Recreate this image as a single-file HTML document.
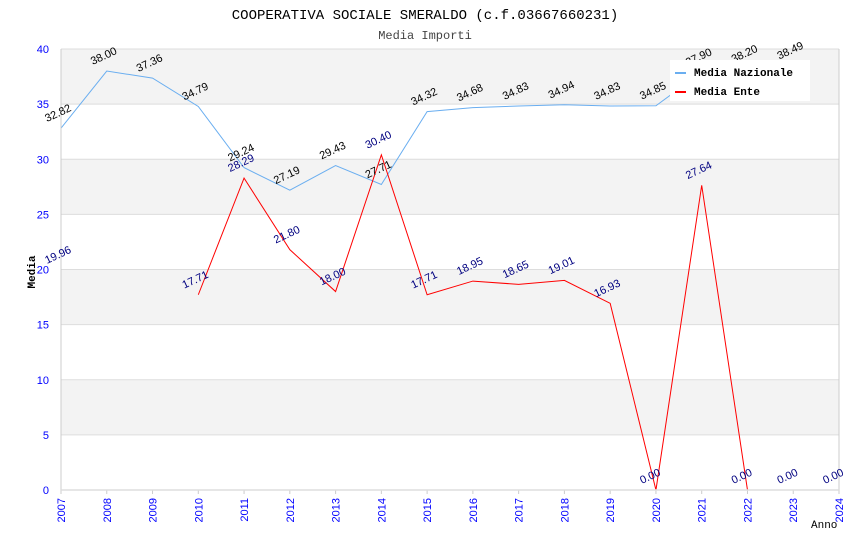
<!DOCTYPE html>
<html><head><meta charset="utf-8"><style>
body{margin:0;background:#fff;}
svg text{font-family:"Liberation Sans",sans-serif;}
.mono{font-family:"Liberation Mono",monospace;}
</style></head><body>
<svg id="chart" width="850" height="550" xmlns="http://www.w3.org/2000/svg">
<text class="mono" x="425" y="19" text-anchor="middle" font-size="14" fill="#000">COOPERATIVA SOCIALE SMERALDO (c.f.03667660231)</text>
<text class="mono" x="425" y="39" text-anchor="middle" font-size="12" fill="#444">Media Importi</text>
<g id="bands"></g><g id="grid"></g><g id="series"></g><g id="axes"></g><g id="labels"></g>
<g>
<rect x="670" y="60" width="140" height="41" fill="#fff"/>
<line x1="675" y1="73" x2="686" y2="73" stroke="#6aaef0" stroke-width="2"/>
<text class="mono" x="694" y="76" font-size="11" font-weight="bold">Media Nazionale</text>
<line x1="675" y1="92" x2="686" y2="92" stroke="#f00" stroke-width="2"/>
<text class="mono" x="694" y="95" font-size="11" font-weight="bold">Media Ente</text>
</g>
<text class="mono" x="35" y="272" font-size="11" font-weight="bold" transform="rotate(-90 35 272)" text-anchor="middle">Media</text>
<text class="mono" x="811" y="528" font-size="11">Anno</text>
</svg>
<script>
const years=[2007,2008,2009,2010,2011,2012,2013,2014,2015,2016,2017,2018,2019,2020,2021,2022,2023,2024];
const nazionale=[32.82,38.00,37.36,34.79,29.24,27.19,29.43,27.71,34.32,34.68,34.83,34.94,34.83,34.85,37.9,38.2,38.49,null];
const ente=[19.96,null,null,17.71,28.29,21.80,18.00,30.40,17.71,18.95,18.65,19.01,16.93,0.00,27.64,0.00,0.00,0.00];
const yTicks=[0,5,10,15,20,25,30,35,40];
const NS="http://www.w3.org/2000/svg";
const L=61,R=839,T=49,B=490;
const xs=i=>L+(R-L)*i/(years.length-1);
const ys=v=>B-(B-T)*v/40;
function mk(p,tag,a){const e=document.createElementNS(NS,tag);for(const k in a)e.setAttribute(k,a[k]);document.getElementById(p).appendChild(e);return e;}
for(let i=0;i<yTicks.length-1;i++){
  if(i%2===1){const r=mk('bands','rect',{x:L,y:ys(yTicks[i+1]),width:R-L,height:ys(yTicks[i])-ys(yTicks[i+1]),fill:'#f3f3f3'});
  
  }
}
yTicks.forEach(v=>{
  const l=mk('grid','line',{x1:L,x2:R,y1:ys(v),y2:ys(v),stroke:'#ddd'});
  
  
  const t=mk('axes','text',{x:L-12,y:ys(v)+4,'text-anchor':'end','font-size':11,fill:'#00f'});
  
  
  t.textContent=v;
});
mk('axes','line',{x1:L,x2:L,y1:T,y2:B,stroke:'#ccc'});
mk('axes','line',{x1:R,x2:R,y1:T,y2:B,stroke:'#ccc'});
mk('axes','line',{x1:L,x2:R,y1:B,y2:B,stroke:'#ddd','stroke-width':1.5});
years.forEach((y,i)=>{
  const x=xs(i);
  mk('grid','line',{x1:x,x2:x,y1:B,y2:B+4,stroke:'#ccc'});
  const t=mk('axes','text',{x:x+4,y:B+8,'text-anchor':'end','font-size':11,fill:'#00f',transform:`rotate(-90 ${x+4} ${B+8})`});
  
  
  t.textContent=y;
});
function series(arr,color,lab,name){
  let d='';let pen=false;
  arr.forEach((v,i)=>{if(v===null){pen=false;return;}d+=(pen?'L':'M')+xs(i)+' '+ys(v)+' ';pen=true;});
  const p=mk('series','path',{d:d,fill:'none',stroke:color,'stroke-width':1});
  
  
  arr.forEach((v,i)=>{if(v===null)return;
    const x=xs(i)-14,y=ys(v)-6;
    const t=mk('labels','text',{x:x,y:y,'font-size':11,fill:lab,transform:`rotate(-25 ${x} ${y})`});
    
    
    t.textContent=v.toFixed(2);});
}
series(nazionale,'#6aaef0','#000','series-media-nazionale');
series(ente,'#f00','#000080','series-media-ente');
</script>
</body></html>
